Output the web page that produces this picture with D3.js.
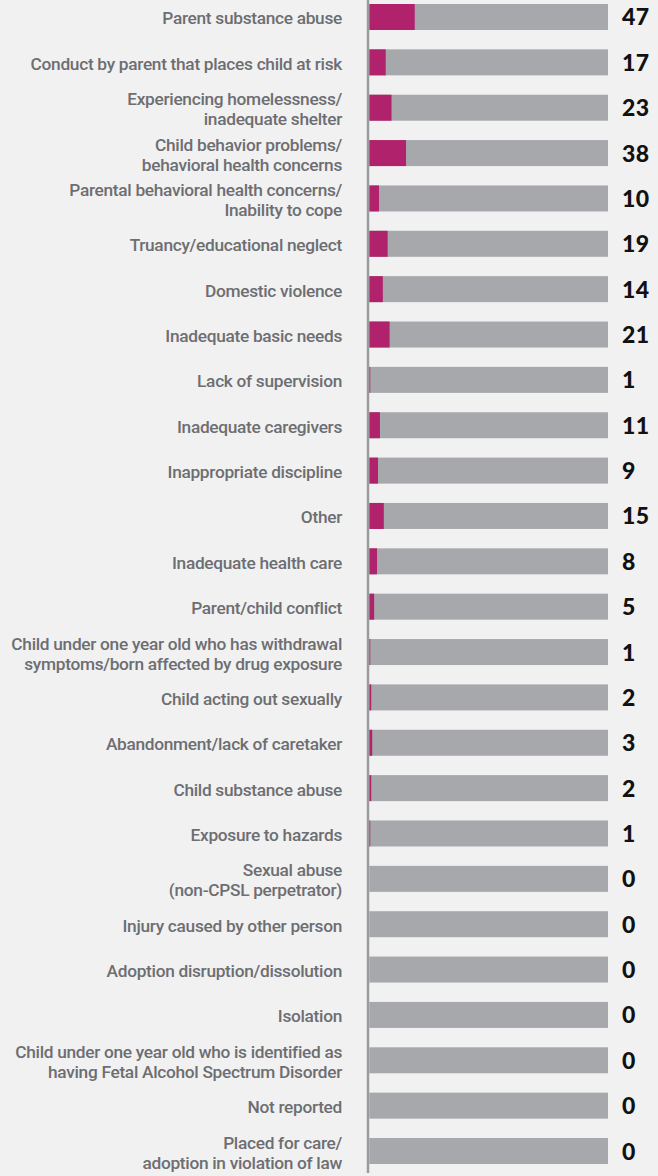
<!DOCTYPE html>
<html>
<head>
<meta charset="utf-8">
<script src="https://cdn.jsdelivr.net/npm/d3@7"></script>
<style>
  html, body { margin: 0; padding: 0; background: #f1f1f1; }
  svg { display: block; }
</style>
</head>
<body>
<svg id="chart" width="658" height="1176"></svg>
<script>
const categories = [
  "Parent substance abuse",
  "Conduct by parent that places child at risk",
  "Experiencing homelessness/\ninadequate shelter",
  "Child behavior problems/\nbehavioral health concerns",
  "Parental behavioral health concerns/\nInability to cope",
  "Truancy/educational neglect",
  "Domestic violence",
  "Inadequate basic needs",
  "Lack of supervision",
  "Inadequate caregivers",
  "Inappropriate discipline",
  "Other",
  "Inadequate health care",
  "Parent/child conflict",
  "Child under one year old who has withdrawal\nsymptoms/born affected by drug exposure",
  "Child acting out sexually",
  "Abandonment/lack of caretaker",
  "Child substance abuse",
  "Exposure to hazards",
  "Sexual abuse\n(non-CPSL perpetrator)",
  "Injury caused by other person",
  "Adoption disruption/dissolution",
  "Isolation",
  "Child under one year old who is identified as\nhaving Fetal Alcohol Spectrum Disorder",
  "Not reported",
  "Placed for care/\nadoption in violation of law"
];
const values = [47, 17, 23, 38, 10, 19, 14, 21, 1, 11, 9, 15, 8, 5, 1, 2, 3, 2, 1, 0, 0, 0, 0, 0, 0, 0];

const total = d3.sum(values);
const data = categories.map((c, i) => ({ cat: c, value: values[i] }));

const svg = d3.select("#chart");

const x = d3.scaleLinear().domain([0, total]).range([369.3, 608]);
const y = d3.scaleBand().domain(categories).range([4, 1164]).paddingInner(0.427).paddingOuter(0);
const bh = y.bandwidth();

// gray full bars
svg.append("g").selectAll("rect").data(data).join("rect")
  .attr("x", x(0))
  .attr("y", d => y(d.cat))
  .attr("width", x(total) - x(0))
  .attr("height", bh)
  .attr("fill", "#a7a8ab");

// pink share bars
svg.append("g").selectAll("rect").data(data).join("rect")
  .attr("x", x(0))
  .attr("y", d => y(d.cat))
  .attr("width", d => x(d.value) - x(0))
  .attr("height", bh)
  .attr("fill", "#b0226b");

// axis line
svg.append("line")
  .attr("x1", 368).attr("x2", 368)
  .attr("y1", 0).attr("y2", 1173)
  .attr("stroke", "#9a9b9d")
  .attr("stroke-width", 2.5);

// category labels
const lab = svg.append("g")
  .attr("font-family", "Roboto, 'Open Sans', sans-serif")
  .attr("font-weight", 500)
  .attr("font-size", 17.3)
  .attr("letter-spacing", -0.3)
  .attr("fill", "#6d6e71")
  .attr("text-anchor", "end");

data.forEach(d => {
  const lines = d.cat.split("\n");
  const cy = y(d.cat) + bh / 2;
  const t = lab.append("text").attr("x", 342);
  if (lines.length === 1) {
    t.append("tspan").attr("x", 342).attr("y", cy + 7.5).text(lines[0]);
  } else {
    t.append("tspan").attr("x", 342).attr("y", cy - 2.5).text(lines[0]);
    t.append("tspan").attr("x", 342).attr("y", cy + 17.5).text(lines[1]);
  }
});

// value labels
svg.append("g")
  .attr("font-family", "Lato, sans-serif")
  .attr("font-weight", 900)
  .attr("font-size", 23)
  .attr("letter-spacing", 0.5)
  .attr("fill", "#111")
  .selectAll("text").data(data).join("text")
  .attr("x", 622)
  .attr("y", d => y(d.cat) + bh / 2 + 8.5)
  .text(d => d.value);
</script>
</body>
</html>
